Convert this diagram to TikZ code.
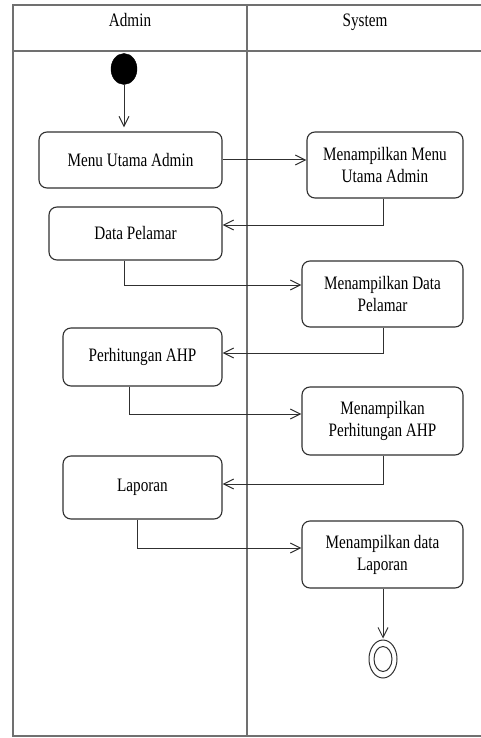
\documentclass[tikz,border=0pt]{standalone}
\usepackage{fontspec}
\setmainfont{Liberation Serif}[FakeStretch=0.8]
\usetikzlibrary{arrows.meta,shapes.geometric}
\definecolor{lanec}{HTML}{707070}
\definecolor{linec}{HTML}{303030}
\tikzset{
  lane/.style={draw=lanec,line width=1.3pt},
  act/.style={draw=linec,line width=1.1pt,rounded corners=8pt,align=center,inner sep=0pt,
    font=\fontsize{19}{22}\selectfont},
  flow/.style={draw=linec,line width=1pt,-{Straight Barb[length=10pt,width=10pt,line width=1pt]}},
  lbl/.style={font=\fontsize{19}{22}\selectfont,inner sep=0pt,anchor=base}
}
\begin{document}
\begin{tikzpicture}[x=1pt,y=-1pt]
\useasboundingbox (0,0) rectangle (481,738);
% swimlanes
\draw[lane] (481,5) -- (13,5) -- (13,736) -- (481,736);
\draw[lane] (13,51) -- (481,51);
\draw[lane] (247,5) -- (247,736);
\node[lbl] (hA) at (130,27) {Admin};
\node[lbl] (hS) at (365,27) {System};
% start / end
\node[ellipse,fill=black,draw=black,minimum width=26pt,minimum height=31pt,inner sep=0pt] (start) at (124,69) {};
\node[ellipse,draw=linec,line width=1pt,minimum width=28pt,minimum height=38pt,inner sep=0pt] (end) at (383,659) {};
\node[ellipse,draw=linec,line width=1pt,minimum width=18pt,minimum height=25pt,inner sep=0pt] (endin) at (383,659) {};
% activities
\node[act,minimum width=183pt,minimum height=56pt] (a1) at (130.5,160) {Menu Utama Admin};
\node[act,minimum width=173pt,minimum height=53pt] (a2) at (135.5,233.5) {Data Pelamar};
\node[act,minimum width=159pt,minimum height=58pt] (a3) at (142.5,357) {Perhitungan AHP};
\node[act,minimum width=159pt,minimum height=63pt] (a4) at (142.5,487.5) {Laporan};
\node[act,minimum width=156pt,minimum height=66pt] (s1) at (385,165) {Menampilkan Menu\\Utama Admin};
\node[act,minimum width=161pt,minimum height=66pt] (s2) at (382.5,294) {Menampilkan Data\\Pelamar};
\node[act,minimum width=161pt,minimum height=68pt] (s3) at (382.5,421) {Menampilkan\\Perhitungan AHP};
\node[act,minimum width=161pt,minimum height=67pt] (s4) at (382.5,554.5) {Menampilkan data\\Laporan};
% flows
\draw[flow,shorten >=4pt] (start) -- (a1.north -| start);
\draw[flow] (a1.east) -- (a1.east -| s1.west);
\draw[flow] (s1.south -| 383,0) |- (a2.east |- 0,225);
\draw[flow] (a2.south -| 124,0) |- (s2.west |- 0,285);
\draw[flow] (s2.south -| 383,0) |- (a3.east |- 0,353);
\draw[flow] (a3.south -| 129,0) |- (s3.west |- 0,414);
\draw[flow] (s3.south -| 383,0) |- (a4.east |- 0,484);
\draw[flow] (a4.south -| 137,0) |- (s4.west |- 0,548);
\draw[flow,shorten >=1pt] (s4.south -| 383,0) -- (end.north);
\end{tikzpicture}
\end{document}
